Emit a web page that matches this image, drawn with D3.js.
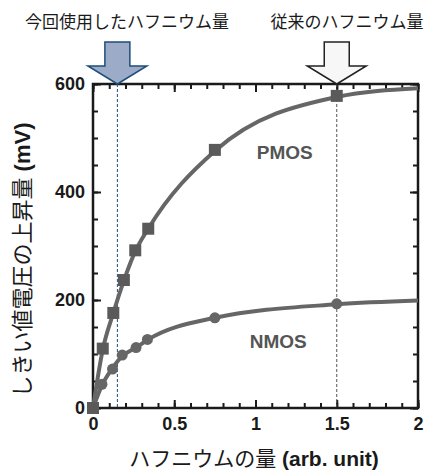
<!DOCTYPE html>
<html>
<head>
<meta charset="utf-8">
<script src="https://cdn.jsdelivr.net/npm/d3@7"></script>
<style>
  body { margin: 0; background: #fff; }
  svg { display: block; }
  .tick text { font-family: "Liberation Sans", Arial, sans-serif; font-weight: bold; font-size: 18px; fill: #1a1a1a; }
</style>
</head>
<body>
<div id="chart"></div>
<script>
// data
var pmosX = [0, 0.06, 0.125, 0.19, 0.26, 0.34, 0.75, 1.5];
var pmosY = [0, 110, 176, 237, 292, 332, 478, 578];
var pmosCurveX = [0, 0.06, 0.125, 0.19, 0.26, 0.34, 0.75, 1.5, 2];
var pmosCurveY = [0, 108, 176, 236, 290, 332, 476, 576, 592];

var nmosX = [0, 0.055, 0.12, 0.18, 0.265, 0.335, 0.75, 1.5];
var nmosY = [0, 44, 72, 98, 112, 127, 167, 193];
var nmosCurveX = [0, 0.055, 0.12, 0.18, 0.265, 0.335, 0.75, 1.5, 2];
var nmosCurveY = [0, 42, 74, 96, 112, 126, 167, 192, 199];

var xTicks = [0, 0.5, 1, 1.5, 2];
var yTicks = [0, 200, 400, 600];
var markerX = [0.15, 1.5];
var markerLabels = ["今回使用したハフニウム量", "従来のハフニウム量"];

// set the dimensions and margins of the graph
var margin = {top: 84, right: 9, bottom: 65, left: 93},
    width = 427 - margin.left - margin.right,
    height = 473 - margin.top - margin.bottom;

var svg = d3.select("#chart")
  .append("svg")
    .attr("width", 427)
    .attr("height", 473)
  .append("g")
    .attr("transform", "translate(" + margin.left + "," + margin.top + ")");

var x = d3.scaleLinear().domain([0, 2]).range([0, width]);
var y = d3.scaleLinear().domain([0, 600]).range([height, 0]);

var minorX = d3.range(0, 2.0001, 0.1);
var minorY = d3.range(0, 600.001, 50);

// minor ticks (inward, all four sides)
svg.append("g").attr("transform", "translate(0," + height + ")")
  .call(d3.axisBottom(x).tickValues(minorX).tickSize(-5).tickFormat(""));
svg.append("g")
  .call(d3.axisTop(x).tickValues(minorX).tickSize(-5).tickFormat(""));
svg.append("g")
  .call(d3.axisLeft(y).tickValues(minorY).tickSize(-5).tickFormat(""));
svg.append("g").attr("transform", "translate(" + width + ",0)")
  .call(d3.axisRight(y).tickValues(minorY).tickSize(-5).tickFormat(""));

// major ticks with labels
svg.append("g").attr("transform", "translate(0," + height + ")")
  .call(d3.axisBottom(x).tickValues(xTicks).tickSize(-8).tickPadding(9)
    .tickFormat(function(d) { return d; }));
svg.append("g")
  .call(d3.axisLeft(y).tickValues(yTicks).tickSize(-8).tickPadding(8));
svg.append("g")
  .call(d3.axisTop(x).tickValues(xTicks).tickSize(-8).tickFormat(""));
svg.append("g").attr("transform", "translate(" + width + ",0)")
  .call(d3.axisRight(y).tickValues(yTicks).tickSize(-8).tickFormat(""));

svg.selectAll(".domain").remove();
svg.selectAll(".tick line").attr("stroke", "#1a1a1a").attr("stroke-width", 2);

// frame
svg.append("rect")
  .attr("width", width).attr("height", height)
  .attr("fill", "none").attr("stroke", "#1a1a1a").attr("stroke-width", 2.5);

// dashed guides
svg.append("line")
  .attr("x1", x(markerX[0])).attr("x2", x(markerX[0]))
  .attr("y1", 0).attr("y2", height)
  .attr("stroke", "#1f4e79").attr("stroke-width", 1).attr("stroke-dasharray", "3,2");
svg.append("line")
  .attr("x1", x(markerX[1])).attr("x2", x(markerX[1]))
  .attr("y1", 0).attr("y2", height)
  .attr("stroke", "#555").attr("stroke-width", 1).attr("stroke-dasharray", "3,2");

// curves
var line = d3.line()
  .x(function(d) { return x(d[0]); })
  .y(function(d) { return y(d[1]); })
  .curve(d3.curveMonotoneX);

svg.append("path")
  .datum(nmosCurveX.map(function(v, i) { return [v, nmosCurveY[i]]; }))
  .attr("d", line).attr("fill", "none")
  .attr("stroke", "#666").attr("stroke-width", 4);
svg.append("path")
  .datum(pmosCurveX.map(function(v, i) { return [v, pmosCurveY[i]]; }))
  .attr("d", line).attr("fill", "none")
  .attr("stroke", "#666").attr("stroke-width", 4);

// markers
svg.selectAll(".nmos")
  .data(nmosX)
  .enter().append("circle")
    .attr("class", "nmos")
    .attr("cx", function(d) { return x(d); })
    .attr("cy", function(d, i) { return y(nmosY[i]); })
    .attr("r", 5.5)
    .attr("fill", "#666");
svg.selectAll(".pmos")
  .data(pmosX)
  .enter().append("rect")
    .attr("class", "pmos")
    .attr("x", function(d) { return x(d) - 6; })
    .attr("y", function(d, i) { return y(pmosY[i]) - 6; })
    .attr("width", 12).attr("height", 12)
    .attr("fill", "#5a5a5a");

// series labels
svg.append("text")
  .attr("x", x(1.18)).attr("y", y(462))
  .attr("text-anchor", "middle")
  .style("font-family", "Liberation Sans, Arial, sans-serif")
  .style("font-weight", "bold").style("font-size", "19px")
  .attr("fill", "#555").text("PMOS");
svg.append("text")
  .attr("x", x(1.14)).attr("y", y(112))
  .attr("text-anchor", "middle")
  .style("font-family", "Liberation Sans, Arial, sans-serif")
  .style("font-weight", "bold").style("font-size", "19px")
  .attr("fill", "#555").text("NMOS");

// arrows
function arrowPath(cx) {
  var tip = 0, headH = 18, top = -42, shaftW = 12.5, headW = 29.5;
  return "M" + cx + "," + tip +
    "L" + (cx - headW) + "," + (tip - headH) +
    "L" + (cx - shaftW) + "," + (tip - headH) +
    "L" + (cx - shaftW) + "," + top +
    "L" + (cx + shaftW) + "," + top +
    "L" + (cx + shaftW) + "," + (tip - headH) +
    "L" + (cx + headW) + "," + (tip - headH) + "Z";
}
svg.append("path")
  .attr("d", arrowPath(x(markerX[0])))
  .attr("fill", "#9babc8").attr("stroke", "#1f4e79").attr("stroke-width", 1.5);
svg.append("path")
  .attr("d", arrowPath(x(markerX[1])))
  .attr("fill", "#f7f7f7").attr("stroke", "#222").attr("stroke-width", 1.5);

// arrow labels
var labelPos = [127 - margin.left, 347 - margin.left];
markerLabels.forEach(function(t, i) {
  svg.append("text")
    .attr("x", labelPos[i]).attr("y", 28 - margin.top)
    .attr("text-anchor", "middle")
    .style("font-family", "Noto Sans CJK JP, sans-serif")
    .style("font-size", "17px").attr("fill", "#1a1a1a")
    .text(t);
});

// axis titles
var xt = svg.append("text")
  .attr("x", 254 - margin.left).attr("y", 466 - margin.top)
  .attr("text-anchor", "middle")
  .style("font-size", "21px").attr("fill", "#1a1a1a");
xt.append("tspan").style("font-family", "Noto Sans CJK JP, sans-serif").text("ハフニウムの量");
xt.append("tspan").style("font-family", "Liberation Sans, Arial, sans-serif")
  .style("font-weight", "bold").text(" (arb. unit)");

var yt = svg.append("text")
  .attr("transform", "translate(" + (30 - margin.left) + "," + (260 - margin.top) + ") rotate(-90)")
  .attr("text-anchor", "middle")
  .style("font-size", "22px").attr("fill", "#1a1a1a");
yt.append("tspan").style("font-family", "Noto Sans CJK JP, sans-serif").text("しきい値電圧の上昇量");
yt.append("tspan").style("font-family", "Liberation Sans, Arial, sans-serif")
  .style("font-weight", "bold").text(" (mV)");
</script>
</body>
</html>
